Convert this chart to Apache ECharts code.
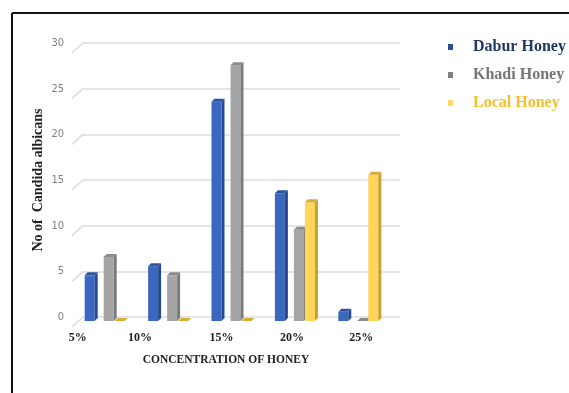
<!DOCTYPE html>
<html>
<head>
<meta charset="utf-8">
<script src="https://cdn.jsdelivr.net/npm/echarts@6/dist/echarts.min.js"></script>
<style>
  html, body { margin: 0; padding: 0; background: #fff; }
  #chart { width: 569px; height: 393px; }
</style>
</head>
<body>
<div id="chart"></div>
<script>
// Honey concentration categories and colony counts per honey type
const categories = ['5%', '10%', '15%', '20%', '25%'];
const daburHoney = [5, 6, 24, 14, 1];
const khadiHoney = [7, 5, 28, 10, 0];
const localHoney = [0, 0, 0, 13, 16];
const seriesNames = ['Dabur Honey', 'Khadi Honey', 'Local Honey'];
const yMin = 0, yMax = 30, yStep = 5;
const yTickValues = [0, 5, 10, 15, 20, 25, 30];

const chart = echarts.init(document.getElementById('chart'));

// Draws a bar with a front face, a shaded right side and a top face
function bar3d(offset, colors) {
  return function (params, api) {
    const idx = api.value(0);
    const v = api.value(1);
    const top = api.coord([idx, v]);
    const base = api.coord([idx, 0]);
    const w = 10, dx = 3, dy = 3, drop = 4;
    const cx = top[0] + offset;
    const x0 = cx - w / 2, x1 = cx + w / 2;
    const yT = top[1] + drop, yB = base[1] + drop;
    return {
      type: 'group',
      children: [
        { type: 'rect', shape: { x: x0, y: yT, width: w, height: yB - yT }, style: { fill: colors[0] } },
        { type: 'polygon', shape: { points: [[x1, yT], [x1 + dx, yT - dy], [x1 + dx, yB - dy], [x1, yB]] }, style: { fill: colors[1] } },
        { type: 'polygon', shape: { points: [[x0, yT], [x0 + dx, yT - dy], [x1 + dx, yT - dy], [x1, yT]] }, style: { fill: colors[2] } }
      ]
    };
  };
}

// Short slanted strokes of the side wall in front of each gridline
function wallLine(params, api) {
  const p = api.coord([0, api.value(1)]);
  const gx = params.coordSys.x;
  return {
    type: 'line',
    shape: { x1: gx - 11, y1: p[1] + 10, x2: gx, y2: p[1] },
    style: { stroke: '#dcdcdc', lineWidth: 1.5 }
  };
}

const labelShift = [-37, -38, -20, -13, -7];
const richShift = {};
labelShift.forEach((s, i) => {
  richShift['s' + i] = { padding: [0, s < 0 ? -2 * s : 0, 0, s > 0 ? 2 * s : 0] };
});

const serif = 'Liberation Serif, Times New Roman, serif';

chart.setOption({
  animation: false,
  grid: { left: 83, right: 169, top: 43, bottom: 76 },
  xAxis: {
    type: 'category',
    data: categories,
    axisLine: { show: false },
    axisTick: { show: false },
    axisLabel: {
      margin: 15,
      fontFamily: serif,
      fontWeight: 'bold',
      fontSize: 12,
      color: '#222',
      formatter: (val, i) => '{s' + i + '|' + val + '}',
      rich: richShift
    }
  },
  yAxis: {
    type: 'value',
    min: yMin, max: yMax, interval: yStep,
    axisLine: { show: false },
    axisTick: { show: false },
    axisLabel: {
      margin: 19,
      fontFamily: 'Liberation Sans Narrow, DejaVu Sans Condensed, sans-serif',
      fontSize: 11,
      color: '#808080'
    },
    splitLine: { lineStyle: { color: '#dcdcdc', width: 1.5 } }
  },
  legend: {
    orient: 'vertical',
    left: 443,
    top: 34,
    itemWidth: 5,
    itemHeight: 6,
    itemGap: 12,
    icon: 'rect',
    textStyle: {
      fontFamily: serif,
      fontWeight: 'bold',
      fontSize: 16,
      lineHeight: 16,
      padding: [0, 0, 0, 15]
    },
    data: [
      { name: seriesNames[0], textStyle: { color: '#1f3864' }, itemStyle: { color: '#2f4f8f' } },
      { name: seriesNames[1], textStyle: { color: '#767676' }, itemStyle: { color: '#808080' } },
      { name: seriesNames[2], textStyle: { color: '#f5c02c' }, itemStyle: { color: '#ffd966' } }
    ]
  },
  graphic: [
    { type: 'line', shape: { x1: 12, y1: 13, x2: 569, y2: 13 }, style: { stroke: '#111', lineWidth: 2 } },
    { type: 'line', shape: { x1: 12, y1: 13, x2: 12, y2: 393 }, style: { stroke: '#111', lineWidth: 2 } },
    {
      type: 'text', x: 38, y: 180, rotation: Math.PI / 2,
      style: {
        text: 'No of  Candida albicans', fill: '#222',
        font: 'bold 14px ' + serif, align: 'center', verticalAlign: 'middle'
      }
    },
    {
      type: 'text', x: 226, y: 360,
      style: {
        text: 'CONCENTRATION OF HONEY', fill: '#222',
        font: 'bold 11.5px ' + serif, align: 'center', verticalAlign: 'middle'
      }
    }
  ],
  series: [
    {
      name: 'wall', type: 'custom', silent: true,
      data: yTickValues.map(t => [0, t]),
      renderItem: wallLine
    },
    {
      name: seriesNames[0], type: 'custom',
      itemStyle: { color: '#3a67c0' },
      data: daburHoney.map((v, i) => [i, v]),
      renderItem: bar3d(-25, ['#3a67c0', '#274a8e', '#2e5599'])
    },
    {
      name: seriesNames[1], type: 'custom',
      itemStyle: { color: '#a5a5a5' },
      data: khadiHoney.map((v, i) => [i, v]),
      renderItem: bar3d(-6, ['#a5a5a5', '#7a7a7a', '#8a8a8a'])
    },
    {
      name: seriesNames[2], type: 'custom',
      itemStyle: { color: '#ffd55a' },
      data: localHoney.map((v, i) => [i, v]),
      renderItem: bar3d(5, ['#ffd55a', '#c9a02a', '#d8ad35'])
    }
  ]
});
</script>
</body>
</html>
